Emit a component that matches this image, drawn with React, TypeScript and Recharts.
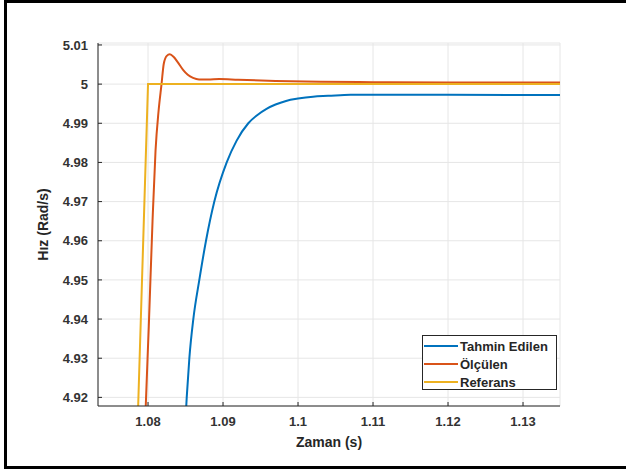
import React from "react";
import { LineChart, Line, XAxis, YAxis, CartesianGrid } from "recharts";

// time (s) / speed (rad/s) pairs
const refTime = [1.0784, 1.08, 1.135];
const refSpeed = [4.9, 5.0, 5.0];

const measTime = [
  1.0794, 1.0797, 1.0801, 1.0806, 1.081, 1.0814, 1.0818, 1.0821, 1.0825, 1.0829,
  1.0834, 1.084, 1.0847, 1.0853, 1.086, 1.0868, 1.088, 1.0895, 1.092, 1.097,
  1.103, 1.11, 1.12, 1.135,
];
const measSpeed = [
  4.9, 4.918, 4.938, 4.965, 4.983, 4.993, 5.0, 5.0052, 5.0072, 5.0076,
  5.007, 5.0055, 5.0036, 5.0024, 5.0016, 5.0012, 5.0012, 5.0013, 5.0011, 5.0008,
  5.0006, 5.0005, 5.0004, 5.0004,
];

const estTime = [
  1.0846, 1.08516, 1.08551, 1.08604, 1.08684, 1.08773, 1.08884, 1.09049, 1.0918,
  1.09337, 1.0945, 1.0958, 1.097, 1.0984, 1.1, 1.102, 1.104, 1.107, 1.12, 1.135,
];
const estSpeed = [
  4.9, 4.92, 4.93, 4.94, 4.95, 4.96, 4.97, 4.98, 4.9855,
  4.99, 4.992, 4.9937, 4.9948, 4.9957, 4.9963, 4.9968, 4.997, 4.9973, 4.9973, 4.9972,
];

const xTicks = [1.08, 1.09, 1.1, 1.11, 1.12, 1.13];
const yTicks = [4.92, 4.93, 4.94, 4.95, 4.96, 4.97, 4.98, 4.99, 5.0, 5.01];

const toPoints = (t: number[], v: number[]) => t.map((x, i) => ({ t: x, v: v[i] }));

const series = [
  { name: "Tahmin Edilen", color: "#0072BD", data: toPoints(estTime, estSpeed) },
  { name: "Ölçülen", color: "#D95319", data: toPoints(measTime, measSpeed) },
  { name: "Referans", color: "#EDB120", data: toPoints(refTime, refSpeed) },
];

const xDomain: [number, number] = [1.07333, 1.13493];
const yDomain: [number, number] = [4.9178, 5.0105];

const font = "'Liberation Sans', Arial, Helvetica, sans-serif";
const ink = "#262626";
const fmt = (v: number) => String(Number(v.toFixed(2)));

const YLabel = ({ viewBox }: any) => {
  const cx = viewBox.x + 5;
  const cy = viewBox.y + viewBox.height / 2;
  return (
    <text
      x={cx}
      y={cy}
      transform={`rotate(-90 ${cx} ${cy})`}
      textAnchor="middle"
      dominantBaseline="central"
      fontFamily={font}
      fontWeight={700}
      fontSize={14}
      fill={ink}
    >
      Hız (Rad/s)
    </text>
  );
};

const XLabel = ({ viewBox }: any) => (
  <text
    x={viewBox.x + viewBox.width / 2}
    y={viewBox.y + 36}
    textAnchor="middle"
    dominantBaseline="central"
    fontFamily={font}
    fontWeight={700}
    fontSize={14}
    fill={ink}
  >
    Zaman (s)
  </text>
);

const tickStyle = { fill: "#333", fontSize: 13, fontWeight: 700, fontFamily: font };

export default function App() {
  return (
    <div
      style={{
        position: "absolute",
        left: 0,
        top: 0,
        width: 626,
        height: 472,
        background: "#fff",
        overflow: "hidden",
      }}
    >
      {/* outer figure frame */}
      <div
        style={{
          position: "absolute",
          left: 4,
          top: 0,
          width: 700,
          height: 469,
          boxSizing: "border-box",
          borderLeft: "3px solid #000",
          borderTop: "3px solid #000",
          borderBottom: "3px solid #000",
        }}
      />
      <div style={{ position: "absolute", left: 0, top: 0 }}>
        <LineChart
          width={626}
          height={472}
          margin={{ top: 43, right: 66, left: 38, bottom: 36 }}
        >
          <CartesianGrid stroke="#e6e6e6" strokeWidth={1} />
          <XAxis
            type="number"
            dataKey="t"
            domain={xDomain}
            allowDataOverflow
            ticks={xTicks}
            tickFormatter={fmt}
            height={30}
            tickSize={-4}
            tickMargin={15}
            axisLine={{ stroke: ink }}
            tickLine={{ stroke: ink }}
            tick={tickStyle}
            label={<XLabel />}
          />
          <XAxis
            xAxisId="top"
            orientation="top"
            type="number"
            dataKey="t"
            domain={xDomain}
            allowDataOverflow
            ticks={xTicks}
            height={0}
            tickSize={-4}
            tick={false}
            axisLine={{ stroke: ink }}
            tickLine={{ stroke: ink }}
          />
          <YAxis
            type="number"
            domain={yDomain}
            allowDataOverflow
            ticks={yTicks}
            tickFormatter={fmt}
            width={60}
            tickSize={-4}
            tickMargin={14}
            axisLine={{ stroke: ink }}
            tickLine={{ stroke: ink }}
            tick={tickStyle}
            label={<YLabel />}
          />
          <YAxis
            yAxisId="right"
            orientation="right"
            type="number"
            domain={yDomain}
            allowDataOverflow
            ticks={yTicks}
            width={0}
            tickSize={-4}
            tick={false}
            axisLine={{ stroke: ink }}
            tickLine={{ stroke: ink }}
          />
          {series.map((s) => (
            <Line
              key={s.name}
              data={s.data}
              dataKey="v"
              name={s.name}
              type={s.name === "Referans" ? "linear" : "monotone"}
              stroke={s.color}
              strokeWidth={2}
              dot={false}
              isAnimationActive={false}
            />
          ))}
        </LineChart>
      </div>

      {/* legend box, lower right of the axes */}
      <div
        style={{
          position: "absolute",
          left: 422,
          top: 335,
          width: 135,
          height: 55,
          boxSizing: "border-box",
          border: `1px solid ${ink}`,
          background: "#fff",
          padding: "1px 0 0 1px",
          fontFamily: font,
          fontWeight: 700,
          fontSize: 13,
          color: ink,
        }}
      >
        {series.map((s) => (
          <div key={s.name} style={{ display: "flex", alignItems: "center", height: 18 }}>
            <div style={{ width: 34, height: 2, background: s.color, marginRight: 2 }} />
            <span>{s.name}</span>
          </div>
        ))}
      </div>
    </div>
  );
}
